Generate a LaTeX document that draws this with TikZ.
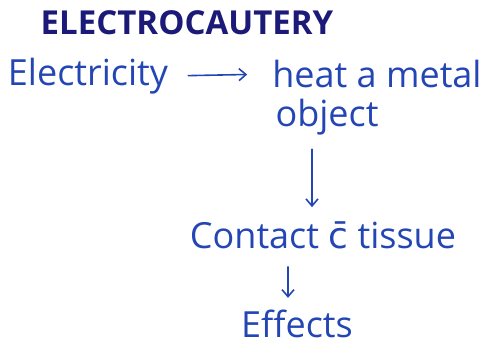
\documentclass[tikz,border=0pt]{standalone}
\usepackage{fontspec}
\setmainfont{Open Sans}
\newfontfamily\marksfont{DejaVu Sans}
\usetikzlibrary{arrows.meta, positioning}
\definecolor{hnavy}{HTML}{1C1A78}
\definecolor{hblue}{HTML}{2446B4}
\tikzset{
  titletxt/.style={text=hnavy, font=\fontsize{33}{38}\selectfont\bfseries, inner sep=0pt},
  notetxt/.style={text=hblue, font=\fontsize{36}{40}\selectfont, inner sep=0pt},
  harr/.style={-{Straight Barb[length=7pt,width=12pt]}, line width=1.6pt, hblue, line cap=round},
}
\begin{document}
\begin{tikzpicture}[x=1pt, y=-1pt]
  \useasboundingbox (0,0) rectangle (501,356);
  \node[titletxt] (title) at (187, 23) {ELECTROCAUTERY};

  \node[notetxt] (elec) at (88, 76) {Electricity};
  \node[notetxt] (heat) at (377, 74) {heat a metal};
  \node[notetxt] (obj) at (327, 117) {object};
  \node[notetxt] (cont) at (323, 235) {Contact {\marksfont c̄} tissue};
  \node[notetxt] (eff) at (297, 324) {Effects};

  % vertical guides for the down arrows
  \coordinate (dx1) at (312, 0);
  \coordinate (dx2) at (288, 0);

  \draw[harr, shorten <=20pt, shorten >=25pt] (elec.east) -- (heat.west);
  \draw[harr, shorten <=14pt, shorten >=14pt] (dx1 |- obj.south) -- (dx1 |- cont.north);
  \draw[harr, shorten <=18pt, shorten >=12pt] (dx2 |- cont.south) -- (dx2 |- eff.north);
\end{tikzpicture}
\end{document}
